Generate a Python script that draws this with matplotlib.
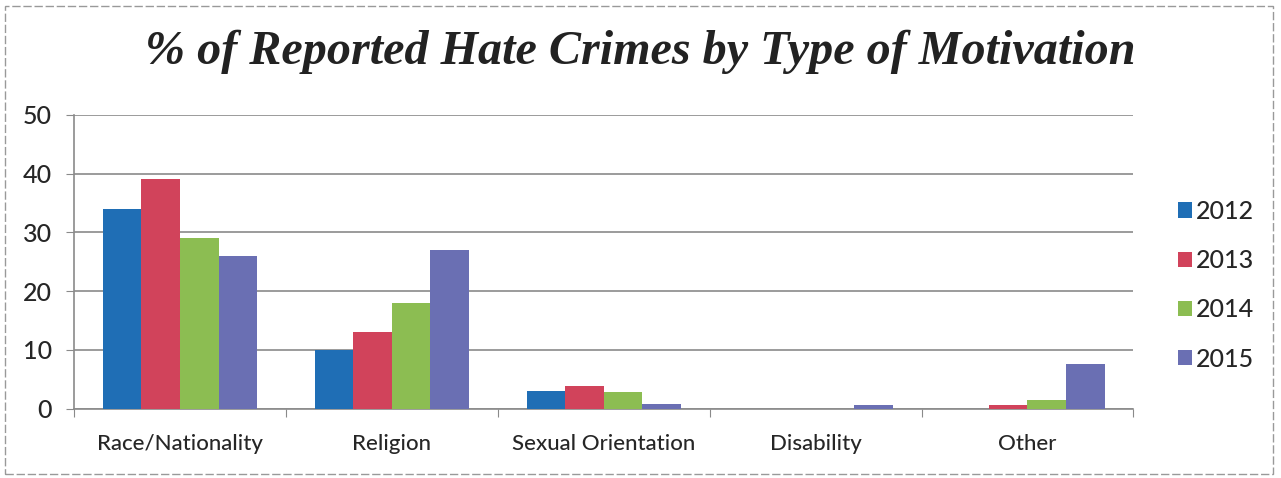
import matplotlib.pyplot as plt
import numpy as np
from matplotlib.patches import Rectangle

# Data
categories = ["Race/Nationality", "Religion", "Sexual Orientation", "Disability", "Other"]
years = ["2012", "2013", "2014", "2015"]
vals_2012 = [34, 10, 3, 0, 0]
vals_2013 = [39, 13, 3.8, 0, 0.7]
vals_2014 = [29, 18, 2.9, 0, 1.5]
vals_2015 = [26, 27, 0.8, 0.7, 7.6]
colors = ["#1F6EB5", "#D1435B", "#8CBD52", "#6A6FB3"]
text_col = "#262626"

fig = plt.figure(figsize=(12.81, 4.78), dpi=100)
ax = fig.add_axes([0.0578, 0.145, 0.827, 0.615])

x = np.arange(len(categories))
width = 0.182
series = [vals_2012, vals_2013, vals_2014, vals_2015]
for i, (vals, col, yr) in enumerate(zip(series, colors, years)):
    ax.bar(x + (i - 1.5) * width, vals, width, color=col, label=yr, zorder=3)

ax.set_xlim(-0.5, len(categories) - 0.5)
ax.set_ylim(0, 50)
ax.set_yticks(range(0, 51, 10))
ax.yaxis.grid(True, color="#8a8a8a", linewidth=1.2, zorder=0)

# category boundary ticks like Excel
ax.set_xticks(np.arange(-0.5, len(categories)), minor=False)
ax.set_xticklabels([])
ax.set_xticks(x, minor=True)
ax.set_xticklabels(categories, minor=True)
ax.tick_params(axis="x", which="minor", length=0, pad=18, labelsize=16, labelcolor=text_col)
ax.tick_params(axis="x", which="major", length=6, color="#8a8a8a")
ax.tick_params(axis="y", length=6, color="#8a8a8a", labelsize=18, pad=10, labelcolor=text_col)
for lab in ax.get_xticklabels(minor=True) + ax.get_yticklabels():
    lab.set_family("Lato")
    lab.set_fontweight("medium")

for s in ["top", "right"]:
    ax.spines[s].set_visible(False)
for s in ["left", "bottom"]:
    ax.spines[s].set_color("#8a8a8a")
    ax.spines[s].set_linewidth(1.2)

leg = ax.legend(loc="center left", bbox_to_anchor=(1.021, 0.42), frameon=False,
                prop={"family": "Lato", "size": 18, "weight": "medium"}, handlelength=0.55,
                handleheight=0.55, handletextpad=0.15, labelspacing=1.05)
for t in leg.get_texts():
    t.set_color(text_col)

fig.text(0.5, 0.892, "% of Reported Hate Crimes by Type of Motivation",
         ha="center", va="center", family="Liberation Serif", fontsize=34.7,
         fontweight="bold", style="italic", color="#222222")

# scanned frame
fig.patches.append(Rectangle((0.004, 0.008), 0.99, 0.98, transform=fig.transFigure,
                             fill=False, edgecolor="#999999", linewidth=1,
                             linestyle=(0, (6, 2))))

fig.savefig("out.png", dpi=100)
